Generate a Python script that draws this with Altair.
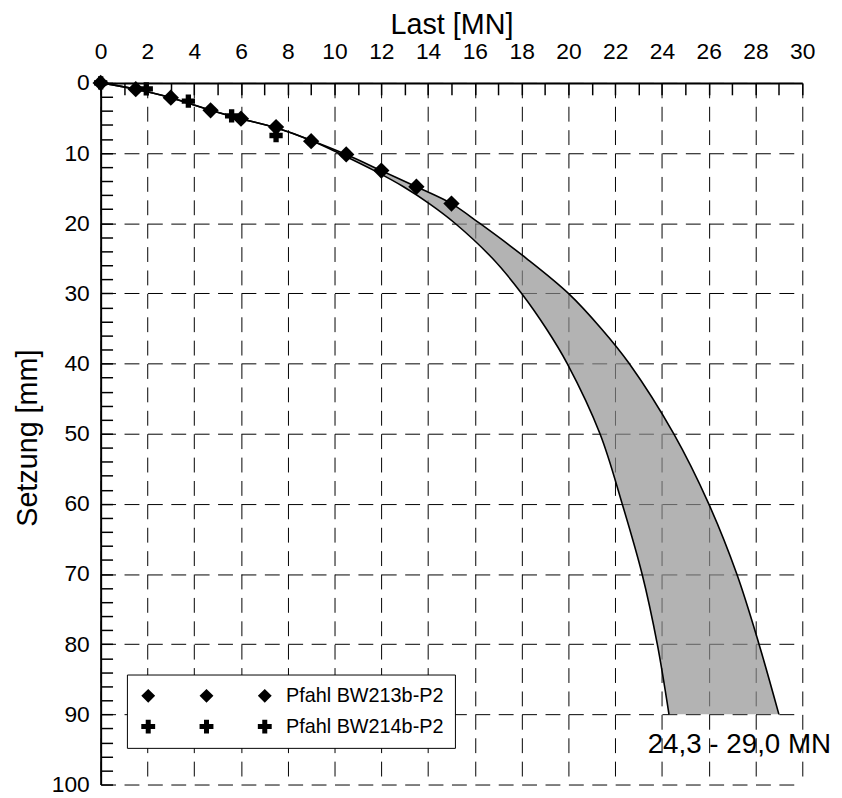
import altair as alt
import pandas as pd

# ---- data ----
series_names = ["Pfahl BW213b-P2", "Pfahl BW214b-P2"]

bw213_load = [0.0, 1.5, 3.0, 4.7, 6.0, 7.5, 9.0, 10.5, 12.0, 13.5, 15.0]
bw213_setz = [0.0, 0.9, 2.1, 3.9, 5.1, 6.3, 8.3, 10.2, 12.5, 14.8, 17.2]

bw214_load = [0.0, 1.95, 3.75, 5.6, 7.5]
bw214_setz = [0.0, 0.85, 2.6, 4.7, 7.5]

# prognosis band: settlement [mm] and lower / upper load [MN]
band_setz = [0, 0.9, 2.1, 3.9, 5.1, 6.4, 8.2, 10.2, 12.5, 14.8, 17.2, 20, 25, 30, 35, 40, 50, 60, 70, 80, 90]
band_low = [0, 1.5, 3.0, 4.7, 6.0, 7.5, 9.0, 10.3, 11.7, 12.95, 14.05, 15.15, 16.75, 18.0, 19.05, 19.95, 21.35, 22.3, 23.15, 23.8, 24.3]
band_high = [0, 1.5, 3.0, 4.7, 6.0, 7.5, 9.0, 10.5, 12.0, 13.5, 15.0, 16.2, 18.2, 20.0, 21.4, 22.6, 24.5, 26.0, 27.2, 28.15, 29.0]

x_label_values = list(range(0, 31, 2))
x_tick_values = list(range(0, 31, 1))
y_label_values = list(range(0, 101, 10))
y_tick_values = list(range(0, 101, 2))

FONT = "Liberation Sans"

band = pd.DataFrame({"s": band_setz, "low": band_low, "high": band_high})
pts = pd.DataFrame({
    "load": bw213_load + bw214_load,
    "setz": bw213_setz + bw214_setz,
    "pile": [series_names[0]] * len(bw213_load) + [series_names[1]] * len(bw214_load),
})
fmt = lambda v: f"{v:.1f}".replace(".", ",")
annot = pd.DataFrame({
    "x": [(band_low[-1] + band_high[-1]) / 2],
    "y": [band_setz[-1]],
    "label": [f"{fmt(band_low[-1])} - {fmt(band_high[-1])} MN"],
})

xscale = alt.Scale(domain=[0, 30], nice=False, zero=False)
yscale = alt.Scale(domain=[0, 100], reverse=True, nice=False, zero=False)

DASH = [15, 8.6]

axis_x_main = alt.Axis(
    orient="top", values=x_label_values, title="Last [MN]",
    grid=True, gridDash=DASH, gridColor="black", gridWidth=1, gridOpacity=1,
    ticks=False, tickSize=0, domain=True, domainColor="black", domainWidth=2,
    labelFont=FONT, labelFontSize=23, labelColor="black", labelPadding=25,
    labelBaseline="alphabetic", labelFlush=False, labelOverlap=False,
    titleFont=FONT, titleFontSize=29, titleFontWeight="normal", titleColor="black",
    titleX=354, titleY=-50, titleBaseline="alphabetic", titleAlign="center",
)
axis_x_ticks = alt.Axis(
    orient="top", values=x_tick_values, labels=False, domain=False, grid=False,
    ticks=True, tickSize=12, tickWidth=1.5, tickColor="black", offset=-12, title=None,
)
axis_y_main = alt.Axis(
    orient="left", values=y_label_values, title="Setzung [mm]",
    grid=True, gridDash=DASH, gridColor="black", gridWidth=1, gridOpacity=1,
    ticks=False, tickSize=0, domain=True, domainColor="black", domainWidth=2,
    labelFont=FONT, labelFontSize=23, labelColor="black", labelPadding=11.5,
    labelFlush=False, labelOverlap=False,
    titleFont=FONT, titleFontSize=29, titleFontWeight="normal", titleColor="black",
    titleX=-73.5, titleY=358, titleBaseline="middle", titleAlign="center", titleAngle=270,
)
axis_y_ticks = alt.Axis(
    orient="left", values=y_tick_values, labels=False, domain=False, grid=False,
    ticks=True, tickSize=12, tickWidth=1.5, tickColor="black", offset=-12, title=None,
)

area = alt.Chart(band).mark_area(
    orient="horizontal", interpolate="catmull-rom", color="#8e8e8e", opacity=0.675
).encode(
    y=alt.Y("s:Q", scale=yscale, axis=axis_y_main),
    x=alt.X("low:Q", scale=xscale, axis=axis_x_main),
    x2="high:Q",
)

lines = alt.Chart(band).transform_fold(
    ["low", "high"], as_=["curve", "load"]
).mark_line(interpolate="catmull-rom", color="black", strokeWidth=1.6).encode(
    x=alt.X("load:Q", scale=xscale, axis=axis_x_ticks),
    y=alt.Y("s:Q", scale=yscale, axis=axis_y_ticks),
    detail="curve:N",
    order="s:Q",
)

points = alt.Chart(pts).mark_point(filled=True, color="black", opacity=1, clip=False).encode(
    x=alt.X("load:Q", scale=xscale, axis=None),
    y=alt.Y("setz:Q", scale=yscale, axis=None),
    shape=alt.Shape("pile:N", scale=alt.Scale(domain=series_names, range=["diamond", "cross"]), legend=None),
    size=alt.Size("pile:N", scale=alt.Scale(domain=series_names, range=[270, 180]), legend=None),
)


def triple(single, spacing=8.4):
    return " ".join(single(cx) for cx in (0, spacing, 2 * spacing))


def diamond(cx):
    return f"M{cx},-1L{cx+1},0L{cx},1L{cx-1},0Z"


def cross(cx, s=0.36):
    return (f"M{cx-1},{-s}L{cx-s},{-s}L{cx-s},-1L{cx+s},-1L{cx+s},{-s}L{cx+1},{-s}"
            f"L{cx+1},{s}L{cx+s},{s}L{cx+s},1L{cx-s},1L{cx-s},{s}L{cx-1},{s}Z")


legend_layer = alt.Chart(pts).mark_point(
    filled=True, color="black", opacity=1, size=196, clip=True, yOffset=5000
).encode(
    x=alt.X("load:Q", scale=xscale, axis=None),
    y=alt.Y("setz:Q", scale=yscale, axis=None),
    shape=alt.Shape(
        "pile:N",
        scale=alt.Scale(domain=series_names, range=[triple(diamond), triple(cross)]),
        legend=alt.Legend(
            orient="none", legendX=26.5, legendY=597, title=None, direction="vertical",
            padding=11.5, strokeColor="black", fillColor="white",
            labelFont=FONT, labelFontSize=20, labelColor="black", labelLimit=0,
            labelOffset=129, rowPadding=11, symbolSize=196, symbolStrokeWidth=0,
            symbolFillColor="black", symbolOpacity=1,
        ),
    ),
)

text = alt.Chart(annot).mark_text(
    font=FONT, fontSize=28, color="black", dx=15.6, dy=31, align="center", baseline="middle"
).encode(
    x=alt.X("x:Q", scale=xscale, axis=None),
    y=alt.Y("y:Q", scale=yscale, axis=None),
    text="label:N",
)

chart = alt.layer(area, lines, points, legend_layer, text).resolve_axis(
    x="independent", y="independent"
).resolve_scale(shape="independent", size="independent").properties(
    width=708, height=708, autosize="none",
    padding={"left": 93.5, "top": 72, "right": 32, "bottom": 10},
).configure_view(stroke=None)

chart.save("out.html", embed_options={"renderer": "svg", "actions": False})
